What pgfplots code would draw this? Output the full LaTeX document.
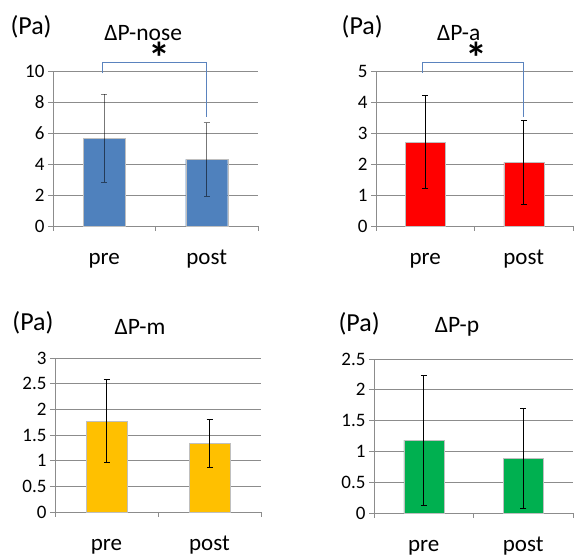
\documentclass[border=0pt]{standalone}
\usepackage{pgfplots}
\pgfplotsset{compat=1.18}
\usepackage{fontspec}
\setmainfont{Carlito}
\definecolor{cblue}{HTML}{4F81BD}
\definecolor{cred}{HTML}{FF0000}
\definecolor{cgold}{HTML}{FFC000}
\definecolor{cgreen}{HTML}{00B050}
\definecolor{gridc}{HTML}{8C8C8C}
\definecolor{brk}{HTML}{5A83BE}
\tikzset{
  ttl/.style={font=\fontsize{23.5}{23.5}\selectfont},
  pa/.style={font=\fontsize{26}{26}\selectfont},
  star/.style={font=\fontsize{44}{44}\selectfont\bfseries, inner sep=0pt},
}
\pgfplotsset{
  panel/.style={
    scale only axis, xmin=-0.5, xmax=1.5, ymin=0,
    axis lines*=left, tick align=outside, clip=false,
    ymajorgrids, grid style={gridc, line width=0.9pt},
    axis line style={gridc, line width=0.9pt},
    xtick={0,1}, xticklabels={pre,post},
    minor xtick={-0.5,0.5,1.5},
    major x tick style={draw=none},
    minor x tick style={gridc, line width=0.9pt},
    y tick style={gridc, line width=0.9pt},
    major tick length=5pt, minor tick length=5pt,
    /pgf/number format/assume math mode=true,
    yticklabel style={font=\fontsize{19}{19}\selectfont, text=black},
    xticklabel style={font=\fontsize{23}{23}\selectfont, text=black, anchor=base, yshift=-34pt},
  },
  bars/.style={ybar, bar width=#1, draw=white!75!black, line width=0.3pt,
    error bars/.cd, y dir=both, y explicit,
    error bar style={black, line width=0.6pt},
    error mark options={rotate=90, black, mark size=3pt, line width=0.6pt},
    /pgfplots/.cd},
}
\begin{document}
\begin{tikzpicture}
\path[use as bounding box] (0,0) rectangle (574pt,555pt);
% Panel 1
\begin{axis}[panel, at={(53pt,329pt)}, anchor=south west, width=205pt, height=155pt,
  ymax=10, ytick={0,2,...,10}]
\addplot[bars=42pt, fill=cblue, error bars/error bar style={black, opacity=0.5, line width=0.9pt}]
  coordinates {(0,5.66) +- (0,2.85) (1,4.30) +- (0,2.37)};
\addplot[brk, line width=0.9pt, no marks] coordinates {(-0.02,9.85) (-0.02,10.56) (1.0,10.56) (1.0,7.03)};
\node[ttl] at (rel axis cs:0.44,1.245) {ΔP-nose};
\node[pa] at (rel axis cs:-0.107,1.284) {(Pa)};
\node[star] at (rel axis cs:0.52,1.085) {*};
\end{axis}
% Panel 2
\begin{axis}[panel, at={(376pt,329pt)}, anchor=south west, width=197pt, height=155pt,
  ymax=5, ytick={0,1,...,5}]
\addplot[bars=40pt, fill=cred] coordinates {(0,2.70) +- (0,1.50) (1,2.05) +- (0,1.36)};
\addplot[brk, line width=0.9pt, no marks] coordinates {(-0.03,4.94) (-0.03,5.29) (1.0,5.29) (1.0,3.52)};
\node[ttl] at (rel axis cs:0.42,1.245) {ΔP-a};
\node[pa] at (rel axis cs:-0.07,1.284) {(Pa)};
\node[star] at (rel axis cs:0.51,1.085) {*};
\end{axis}
% Panel 3
\begin{axis}[panel, at={(55pt,43pt)}, anchor=south west, width=206pt, height=154pt,
  ymax=3, ytick={0,0.5,...,3}]
\addplot[bars=41pt, fill=cgold] coordinates {(0,1.77) +- (0,0.81) (1,1.34) +- (0,0.47)};
\node[ttl] at (rel axis cs:0.413,1.20) {ΔP-m};
\node[pa] at (rel axis cs:-0.107,1.227) {(Pa)};
\end{axis}
% Panel 4
\begin{axis}[panel, at={(374pt,42pt)}, anchor=south west, width=199pt, height=154pt,
  ymax=2.5, ytick={0,0.5,...,2.5}]
\addplot[bars=40pt, fill=cgreen] coordinates {(0,1.185) +- (0,1.055) (1,0.89) +- (0,0.81)};
\node[ttl] at (rel axis cs:0.417,1.21) {ΔP-p};
\node[pa] at (rel axis cs:-0.075,1.23) {(Pa)};
\end{axis}
\end{tikzpicture}
\end{document}
